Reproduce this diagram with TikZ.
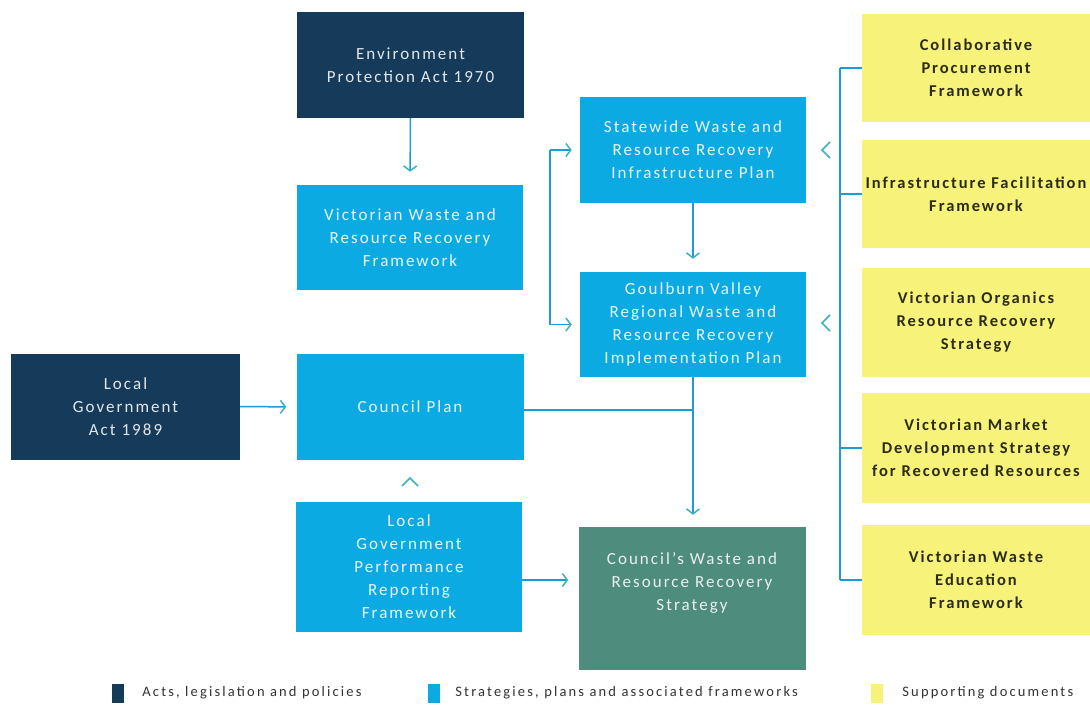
\documentclass[tikz,border=0pt]{standalone}
\usepackage{fontspec}
\setmainfont{Carlito}[LetterSpace=12]
\usetikzlibrary{arrows.meta,calc,positioning}
\definecolor{actnavy}{RGB}{22,58,90}
\definecolor{planblue}{RGB}{12,170,226}
\definecolor{goalteal}{RGB}{78,140,126}
\definecolor{suppyellow}{RGB}{246,242,122}
\definecolor{wireblue}{RGB}{28,155,214}
\definecolor{chevteal}{RGB}{60,178,190}
\tikzset{
  box/.style   = {inner sep=2pt, align=center, minimum width=227pt, minimum height=106pt,
                  font=\fontsize{17}{23}\selectfont},
  act/.style   = {box, fill=actnavy, text=white!88!actnavy},
  plan/.style  = {box, fill=planblue, text=white!90!planblue},
  goal/.style  = {box, fill=goalteal, text=white!88!goalteal},
  supp/.style  = {box, fill=suppyellow, text=black!82!suppyellow, minimum width=228pt,
                  minimum height=108pt, font=\fontsize{16.5}{23}\selectfont\bfseries},
  wire/.style  = {draw=wireblue, line width=1.5pt},
  link/.style  = {wire, -{Straight Barb[length=5pt,width=13pt,line width=1.5pt,color=chevteal]}},
  chev/.style  = {draw=chevteal, line width=1.5pt},
  swatch/.style= {minimum width=12pt, minimum height=19pt, inner sep=0pt},
  keytext/.style = {font=\fontsize{14.5}{16}\selectfont\addfontfeatures{LetterSpace=15},
                    text=black!80, inner sep=0pt, anchor=west},
}
\begin{document}
\begin{tikzpicture}[x=1pt,y=-1pt]
  \useasboundingbox[fill=white] (0,0) rectangle (1090,706);
  % acts and plans
  \node[act]  (epa)   at (410.5,65)  {Environment\\Protection Act 1970};
  \node[plan, minimum width=226pt, minimum height=105pt] (vwrrf) at (410,237.5)
        {Victorian Waste and\\Resource Recovery\\Framework};
  \node[act, minimum width=229pt]  (lga)   at (125.5,406.5) {Local\\Government\\Act 1989};
  \node[plan] (cp)    at (410,407)   {Council Plan};
  \node[plan, minimum width=226pt, minimum height=130pt] (lgprf) at (409,567)
        {Local\\Government\\Performance\\Reporting\\Framework};
  \node[plan, minimum width=226pt] (sw) at (693,150)
        {Statewide Waste and\\Resource Recovery\\Infrastructure Plan};
  \node[plan, minimum width=226pt, minimum height=105pt] (gv) at (693,324.5)
        {Goulburn Valley\\Regional Waste and\\Resource Recovery\\Implementation Plan};
  \node[goal, minimum height=143pt] (cws) at (692,598.5) {};
  \node[goal, fill=none, minimum height=0pt] at ([yshift=16pt]cws.center)
        {Council's Waste and\\Resource Recovery\\Strategy};
  % supporting documents
  \node[supp] (collab) at (976,68)    {Collaborative\\Procurement\\Framework};
  \node[supp] (infra)  at (976,194)   {Infrastructure Facilitation\\Framework};
  \node[supp, minimum height=109pt] (organ) at (976,322.5) {Victorian Organics\\Resource Recovery\\Strategy};
  \node[supp, minimum height=110pt] (market) at (976,448)  {Victorian Market\\Development Strategy\\for Recovered Resources};
  \node[supp, minimum height=110pt] (educ) at (976,580)    {Victorian Waste\\Education\\Framework};
  % connectors
  \draw[link, shorten >=13pt] (epa.south) -- (vwrrf.north);
  \draw[link, shorten >=13pt] (sw.south) -- (gv.north);
  \draw[link, shorten >=10pt] (lga.east) -- (cp.east -| cp.west);
  \draw[link, shorten >=10pt] (lgprf.east |- 0,580) -- (cws.west |- 0,580);
  \draw[wire] (cp.east |- 0,410) -- (gv.south |- 0,410);
  \draw[link, shorten >=12pt] (gv.south) -- (gv.south |- cws.north);
  \coordinate (brl) at (550,0);
  \draw[wire] (sw.west -| brl) -- (gv.west -| brl);
  \draw[link, shorten >=8pt] (sw.west -| brl) -- (sw.west);
  \draw[link, shorten >=8pt] (gv.west -| brl) -- (gv.west);
  \coordinate (brr) at (840,0);
  \draw[wire] (collab.west -| brr) -- (educ.west -| brr);
  \foreach \doc in {collab,infra,market,educ}
    \draw[wire] (\doc.west -| brr) -- (\doc.west);
  % loose chevrons
  \draw[chev] (830,142) -- (822,150) -- (830,158);
  \draw[chev] (830,315) -- (822,323) -- (830,331);
  \draw[chev] (402,486) -- (410,478) -- (418,486);
  % legend
  \node[swatch, fill=actnavy]    (k1) at (118,693) {};
  \node[keytext, right=18pt of k1] {Acts, legislation and policies};
  \node[swatch, fill=planblue]   (k2) at (434,693) {};
  \node[keytext, right=15pt of k2] {Strategies, plans and associated frameworks};
  \node[swatch, fill=suppyellow] (k3) at (877,693) {};
  \node[keytext, right=19pt of k3] {Supporting documents};
\end{tikzpicture}
\end{document}
